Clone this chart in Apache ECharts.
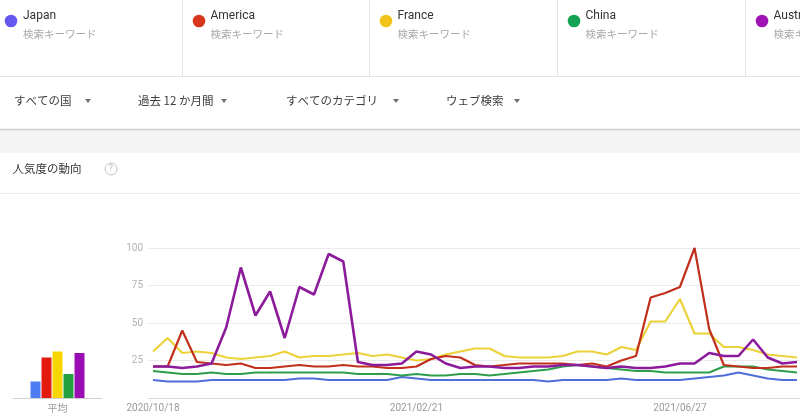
<!DOCTYPE html>
<html>
<head>
<meta charset="utf-8">
<script src="https://cdn.jsdelivr.net/npm/echarts@6/dist/echarts.min.js"></script>
<style>
html,body{margin:0;padding:0;background:#fff;}
#chart{width:800px;height:419px;}
</style>
</head>
<body>
<div id="chart"></div>
<script>
// ---- data ----
const seriesNames = ['Japan', 'America', 'France', 'China', 'Austria'];
const startDate = '2020/10/18';
const weekCount = 45; // weeks visible in the cropped picture
const tickLabels = ['2020/10/18', '2021/02/21', '2021/06/27'];
const yTicks = [25, 50, 75, 100];

const japan   = [12,11,11,11,12,12,12,12,12,12,13,13,12,12,12,12,12,14,13,12,12,12,12,12,12,12,12,11,12,12,12,12,13,12,12,12,12,13,14,15,17,15,13,12,12];
const america = [21,21,45,24,23,22,23,20,20,21,22,21,21,22,21,21,20,20,21,26,28,27,22,21,22,23,23,23,23,22,23,21,25,28,67,70,74,100,46,22,21,20,20,21,21];
const france  = [31,40,30,31,30,27,26,27,28,31,27,28,28,29,30,28,29,27,25,26,29,31,33,33,28,27,27,27,28,31,31,29,34,32,51,51,66,43,43,34,34,32,29,28,27];
const china   = [18,17,16,16,17,16,16,17,17,17,17,17,17,17,16,16,16,15,16,15,15,16,16,15,16,17,18,19,21,22,21,20,19,18,18,17,17,17,17,21,21,21,19,18,17];
const austria = [21,21,20,21,23,47,87,55,71,40,74,69,96,91,24,22,22,23,31,29,23,20,21,21,20,20,21,21,22,22,21,20,21,20,20,21,23,23,30,28,28,39,27,23,24];
const averages = [11, 27, 31, 16, 30];

// weekly categories
const categories = [];
(function(){
  const p = startDate.split('/').map(Number);
  const d0 = Date.UTC(p[0], p[1]-1, p[2]);
  for (let k = 0; k < weekCount; k++) {
    const d = new Date(d0 + k*7*86400000);
    categories.push(d.getUTCFullYear() + '/' + String(d.getUTCMonth()+1).padStart(2,'0') + '/' + String(d.getUTCDate()).padStart(2,'0'));
  }
})();

// ---- styles ----
const lineColors = {Japan:'#4f6fd6', America:'#c0301c', France:'#ecd23a', China:'#2f9e4c', Austria:'#8c1b9c'};
const barColors = ['#4d7cf2', '#e31a0e', '#f7d500', '#23a23f', '#9a0db2'];
const dotColors = ['#6458f0', '#d8361c', '#f2c318', '#14a355', '#a014b5'];
const FONT = 'Roboto, "Noto Sans CJK JP", sans-serif';
const JFONT = '"Noto Sans CJK JP", Roboto, sans-serif';

const chart = echarts.init(document.getElementById('chart'), null, {renderer:'canvas'});

const graphics = [];
// legend cards
const cardX = [0, 182, 369, 557, 745];
[182, 369, 557, 745].forEach(x => graphics.push({type:'line', shape:{x1:x+0.5,y1:0,x2:x+0.5,y2:76}, style:{stroke:'#e3e3e3', lineWidth:1}, silent:true}));
graphics.push({type:'line', shape:{x1:0,y1:76.5,x2:800,y2:76.5}, style:{stroke:'#e3e3e3', lineWidth:1}});
seriesNames.forEach((n, i) => {
  const x0 = cardX[i];
  graphics.push({type:'circle', shape:{cx:x0+11 + (i?6:0), cy:21, r:6.3}, style:{fill:dotColors[i]}});
  graphics.push({type:'text', x:x0+23 + (i?5.5:0), y:16, style:{text:n, font:'12px ' + FONT, fill:'#333', textVerticalAlign:'middle'}});
  graphics.push({type:'text', x:x0+23 + (i?5.5:0), y:34, style:{text:'検索キーワード', font:'10.5px ' + JFONT, fill:'#a8a8a8', textVerticalAlign:'middle'}});
});
// filter row
const filters = [['すべての国',14,88],['過去 12 か月間',138,224],['すべてのカテゴリ',286,396],['ウェブ検索',446,517]];
filters.forEach(f => {
  graphics.push({type:'text', x:f[1], y:101, style:{text:f[0], font:'11.5px ' + JFONT, fill:'#3c3c3c', textVerticalAlign:'middle'}});
  graphics.push({type:'polygon', shape:{points:[[f[2]-3,99],[f[2]+3,99],[f[2],103]]}, style:{fill:'#707070'}});
});
graphics.push({type:'rect', shape:{x:0,y:130,width:800,height:23}, style:{fill:'#f4f4f4'}});
graphics.push({type:'line', shape:{x1:0,y1:129.5,x2:800,y2:129.5}, style:{stroke:'#cfcfcf', lineWidth:1.5}});
graphics.push({type:'text', x:12.5, y:169, style:{text:'人気度の動向', font:'11.5px ' + JFONT, fill:'#333', textVerticalAlign:'middle'}});
graphics.push({type:'circle', shape:{cx:111, cy:169, r:6}, style:{fill:'none', stroke:'#c4c4c4', lineWidth:1}});
graphics.push({type:'text', x:111, y:169, style:{text:'?', font:'9px ' + FONT, fill:'#b8b8b8', textAlign:'center', textVerticalAlign:'middle'}});
graphics.push({type:'line', shape:{x1:0,y1:193.5,x2:800,y2:193.5}, style:{stroke:'#eeeeee', lineWidth:1}});

const lineData = {Japan:japan, America:america, France:france, China:china, Austria:austria};
const drawOrder = ['Japan','China','France','America','Austria'];

const option = {
  animation:false,
  backgroundColor:'#fff',
  textStyle:{fontFamily:FONT},
  graphic:graphics,
  grid:[
    {left:148, top:248, right:0, height:150},
    {left:153, top:248, width:645.5, height:150},
    {left:13, top:248, width:89, height:150}
  ],
  xAxis:[
    {gridIndex:0, type:'value', min:0, max:1, axisLine:{show:true, lineStyle:{color:'#d8d8d8'}}, axisTick:{show:false}, axisLabel:{show:false}, splitLine:{show:false}},
    {gridIndex:1, type:'category', data:categories, boundaryGap:false, axisLine:{show:false}, axisTick:{show:false}, splitLine:{show:false},
      axisLabel:{interval:0, margin:5, fontSize:10, color:'#9a9a9a', fontFamily:FONT, formatter:v => tickLabels.indexOf(v) >= 0 ? v : ''}},
    {gridIndex:2, type:'category', data:['平均'], axisLine:{show:true, lineStyle:{color:'#cfcfcf'}}, axisTick:{show:false},
      axisLabel:{margin:5, fontSize:10, color:'#9a9a9a', fontFamily:JFONT}}
  ],
  yAxis:[
    {gridIndex:0, type:'value', min:0, max:100, interval:25, axisLine:{show:false}, axisTick:{show:false},
      splitLine:{lineStyle:{color:'#ebebeb'}},
      axisLabel:{margin:5, fontSize:10, color:'#b3b3b3', fontFamily:FONT, formatter:v => yTicks.indexOf(v) >= 0 ? String(v) : ''}},
    {gridIndex:1, type:'value', min:0, max:100, show:false},
    {gridIndex:2, type:'value', min:0, max:100, show:false}
  ],
  series: drawOrder.map(n => ({
    name:n, type:'line', xAxisIndex:1, yAxisIndex:1, data:lineData[n], showSymbol:false, symbol:'none',
    lineStyle:{color:lineColors[n], width: n==='Austria' ? 2.6 : 2.2}, itemStyle:{color:lineColors[n]}
  })).concat(seriesNames.map((n,i) => ({
    name:n + '平均', type:'bar', xAxisIndex:2, yAxisIndex:2, data:[averages[i]], barWidth:10, barGap:'10%',
    itemStyle:{color:barColors[i]}
  })))
};
chart.setOption(option);
</script>
</body>
</html>
